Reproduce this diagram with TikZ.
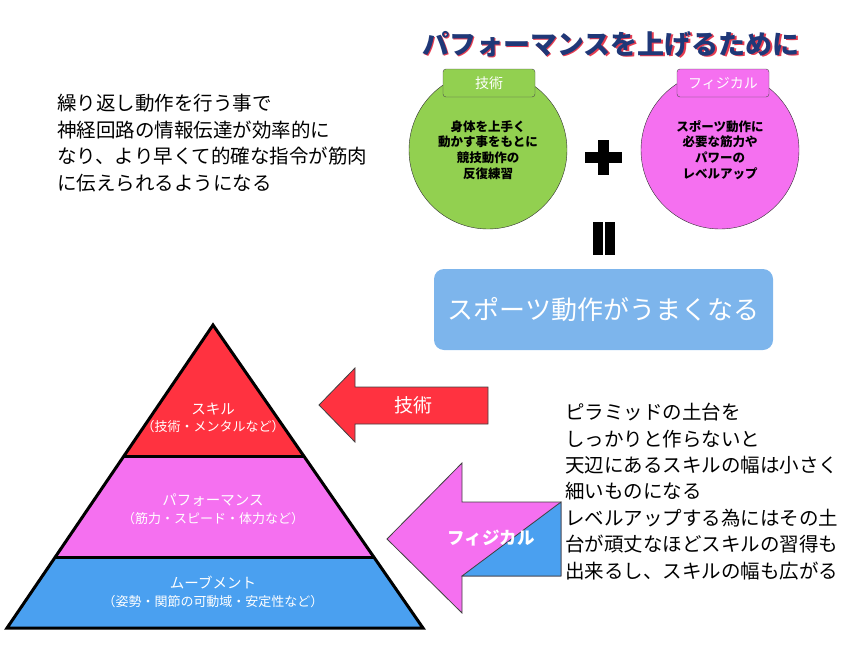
\documentclass[tikz,border=0pt]{standalone}
\usepackage{fontspec}
\setmainfont{Noto Sans CJK JP}
\usetikzlibrary{calc}

\definecolor{skillred}{RGB}{255,50,64}
\definecolor{physpink}{RGB}{245,112,240}
\definecolor{moveblue}{RGB}{74,160,240}
\definecolor{techgreen}{RGB}{146,208,80}
\definecolor{resultblue}{RGB}{125,181,236}
\definecolor{titlenavy}{RGB}{31,56,120}
\definecolor{titlered}{RGB}{230,60,80}

\newcommand{\layername}[1]{{\fontsize{14.5}{17.5}\selectfont #1}}

\begin{document}
\begin{tikzpicture}[x=1pt,y=-1pt]
        \tikzstyle{every node} = [inner sep=0pt]
        \tikzstyle{bodytext} = [align=left, font=\fontsize{19.5}{26.4}\selectfont]
        \tikzstyle{circletext} = [circle, draw=black!80, minimum size=158pt, align=center, font=\fontsize{12.5}{15.8}\selectfont\bfseries]
        \tikzstyle{tag} = [draw=black!70, rounded corners=3pt, minimum width=92pt, minimum height=28pt, text=white, font=\fontsize{14}{14}\selectfont]
        \tikzstyle{layertext} = [text=white, align=center, font=\fontsize{13}{17.5}\selectfont]
        \tikzstyle{arrowtext} = [text=white, font=\fontsize{19}{19}\selectfont]
        \useasboundingbox (0,0) rectangle (860,645);
        % title and left note
        \node[text=titlered, font=\fontsize{27}{30}\selectfont\bfseries] (shadow) at (612.3,45.3) {パフォーマンスを上げるために};
        \node[text=titlenavy, font=\fontsize{27}{30}\selectfont\bfseries] (title) at (611,44) {パフォーマンスを上げるために};
        \node[bodytext, anchor=west] (note) at (57,143) {繰り返し動作を行う事で\\神経回路の情報伝達が効率的に\\なり、より早くて的確な指令が筋肉\\に伝えられるようになる};
        % two circles
        \node[circletext, fill=techgreen] (tech) at (488,150) {身体を上手く\\動かす事をもとに\\競技動作の\\反復練習};
        \node[circletext, fill=physpink] (phys) at (720,150) {スポーツ動作に\\必要な筋力や\\パワーの\\レベルアップ};
        \node[tag, fill=techgreen] (techtag) at (489,83) {技術};
        \node[tag, fill=physpink] (phystag) at (723,83) {フィジカル};
        \fill (585,152) rectangle (622,163);
        \fill (598,140) rectangle (609,175);
        \foreach \x in {593,605}
            \fill (\x,222) rectangle ++(9.5,33);
        \node[fill=resultblue, rounded corners=10pt, minimum width=339pt, minimum height=81pt, text=white, font=\fontsize{26}{26}\selectfont] (result) at (603.5,309.5) {スポーツ動作がうまくなる};
        % pyramid
        \coordinate (top) at (213,325);
        \coordinate (bl) at (7,628);
        \coordinate (br) at (423,628);
        \coordinate (l1) at ($(top)!0.4356!(bl)$);
        \coordinate (r1) at ($(top)!0.4356!(br)$);
        \coordinate (l2) at ($(top)!0.7657!(bl)$);
        \coordinate (r2) at ($(top)!0.7657!(br)$);
        \fill[skillred] (top) -- (l1) -- (r1) -- cycle;
        \fill[physpink] (l1) -- (l2) -- (r2) -- (r1) -- cycle;
        \fill[moveblue] (l2) -- (bl) -- (br) -- (r2) -- cycle;
        \draw[line width=3pt] (top) -- (bl) -- (br) -- cycle;
        \draw[line width=3pt] (l1) -- (r1) (l2) -- (r2);
        \node[layertext] (skill) at (213,418) {\layername{スキル}\\（技術・メンタルなど）};
        \node[layertext] (perf) at (213,509) {\layername{パフォーマンス}\\（筋力・スピード・体力など）};
        \node[layertext] (move) at (213,592) {\layername{ムーブメント}\\（姿勢・関節の可動域・安定性など）};
        % block arrows
        \draw[fill=skillred, draw=black!75, line width=0.8pt] (319,405) -- (355,368) -- (355,387) -- (488,387) -- (488,424) -- (355,424) -- (355,442) -- cycle;
        \draw[fill=physpink, draw=black!75, line width=0.8pt] (387,539) -- (462,463) -- (462,502) -- (561,502) -- (561,576) -- (462,576) -- (462,613) -- cycle;
        \draw[fill=moveblue, draw=black!75, line width=0.8pt] (561,502) -- (561,576) -- (462,576) -- cycle;
        \node[arrowtext] (techarrow) at (413,405) {技術};
        \node[arrowtext, font=\fontsize{17.5}{17.5}\selectfont\bfseries] (physarrow) at (491,538) {フィジカル};
        \node[bodytext, anchor=west] (base) at (565,491.5) {ピラミッドの土台を\\しっかりと作らないと\\天辺にあるスキルの幅は小さく\\細いものになる\\レベルアップする為にはその土\\台が頑丈なほどスキルの習得も\\出来るし、スキルの幅も広がる};
\end{tikzpicture}
\end{document}
